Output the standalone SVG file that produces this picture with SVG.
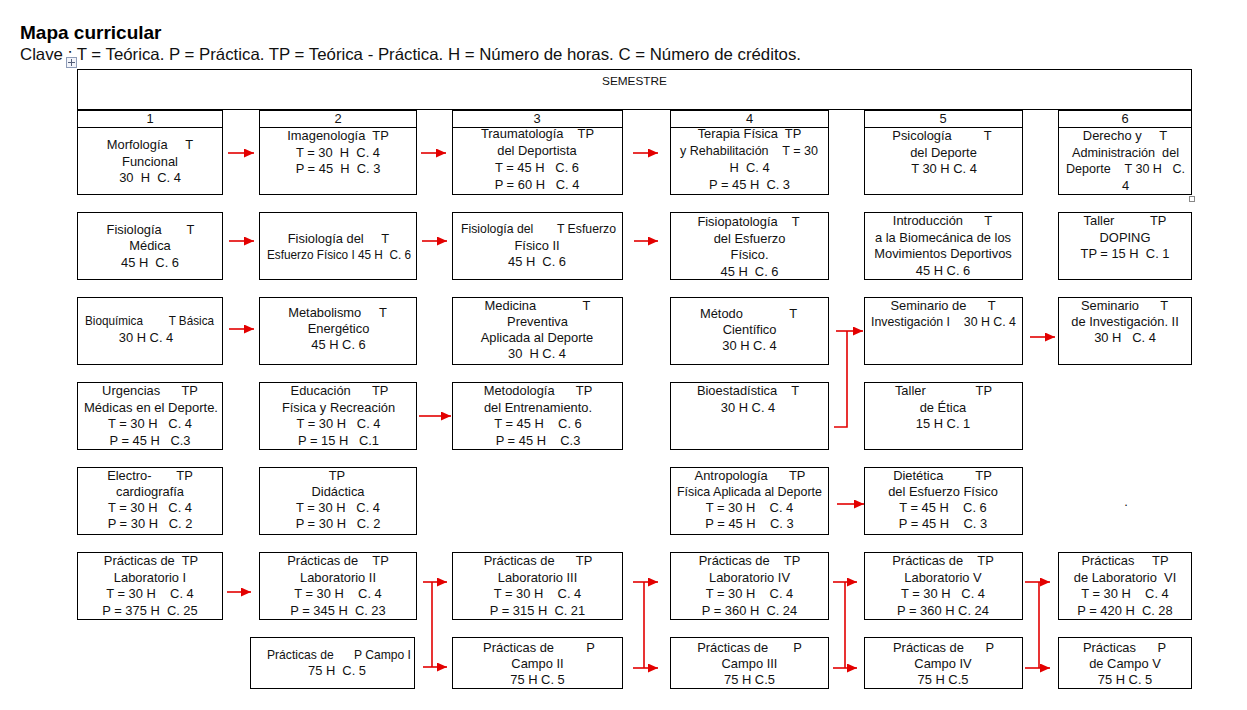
<svg xmlns="http://www.w3.org/2000/svg" width="1247" height="710" viewBox="0 0 1247 710" xml:space="preserve">
<defs>
<style>
.bx{fill:#fff;stroke:#000;stroke-width:1}
.t{font-family:"Liberation Sans",Arial,sans-serif;font-size:12.9px;fill:#111;text-anchor:middle;white-space:pre}
.c{fill:none;stroke:#e30000;stroke-width:1.6}
.a{marker-end:url(#ah)}
</style>
<marker id="ah" markerUnits="userSpaceOnUse" markerWidth="10" markerHeight="9" refX="10" refY="4.5" orient="auto"><path d="M0,0 L10,4.5 L0,9 z" fill="#e30000"/></marker>
</defs>
<rect width="1247" height="710" fill="#fff"/>
<text x="20" y="39" style="font-family:'Liberation Sans',Arial,sans-serif;font-size:19px;font-weight:bold;fill:#000">Mapa curricular</text>
<text x="20" y="60" textLength="781" lengthAdjust="spacingAndGlyphs" style="font-family:'Liberation Sans',Arial,sans-serif;font-size:16.5px;fill:#111">Clave : T = Teórica. P = Práctica. TP = Teórica - Práctica. H = Número de horas. C = Número de créditos.</text>
<g id="move-handle"><rect x="66.5" y="57.5" width="10" height="10" fill="#f2f4fa" stroke="#8e9cb8" stroke-width="1"/><path d="M71.5,59 V66 M68,62.5 H75" stroke="#55607a" stroke-width="1"/></g>
<g id="resize-handle"><rect x="1189.5" y="196.5" width="5" height="5" fill="#fff" stroke="#888" stroke-width="1"/></g>

<g id="semestre"><rect class="bx" x="77.5" y="69.5" width="1114" height="40"/><text class="t" x="634.5" y="85" style="font-size:11.8px">SEMESTRE</text></g>

<g id="sem1"><rect class="bx" x="77.5" y="110.5" width="145" height="17"/><text class="t" x="150" y="123">1</text></g>
<g id="sem2"><rect class="bx" x="259.5" y="110.5" width="157" height="17"/><text class="t" x="338" y="123">2</text></g>
<g id="sem3"><rect class="bx" x="452.5" y="110.5" width="170" height="17"/><text class="t" x="537" y="123">3</text></g>
<g id="sem4"><rect class="bx" x="670.5" y="110.5" width="158" height="17"/><text class="t" x="749.5" y="123">4</text></g>
<g id="sem5"><rect class="bx" x="864.5" y="110.5" width="158" height="17"/><text class="t" x="943" y="123">5</text></g>
<g id="sem6"><rect class="bx" x="1058.5" y="110.5" width="133" height="17"/><text class="t" x="1125" y="123">6</text></g>

<!-- Row 1 -->
<g id="morfologia"><rect class="bx" x="77.5" y="127.5" width="145" height="67"/>
<text class="t" x="150" y="149">Morfología     T</text><text class="t" x="150" y="166">Funcional</text><text class="t" x="150" y="182">30  H  C. 4</text></g>
<g id="imagenologia"><rect class="bx" x="259.5" y="127.5" width="157" height="67"/>
<text class="t" x="338" y="140">Imagenología  TP</text><text class="t" x="338" y="157">T = 30  H  C. 4</text><text class="t" x="338" y="173">P = 45  H  C. 3</text></g>
<g id="traumatologia"><rect class="bx" x="452.5" y="127.5" width="170" height="67"/>
<text class="t" x="537.5" y="138">Traumatología    TP</text><text class="t" x="537" y="155">del Deportista</text><text class="t" x="537" y="172">T = 45 H   C. 6</text><text class="t" x="537" y="189">P = 60 H   C. 4</text></g>
<g id="terapia"><rect class="bx" x="670.5" y="127.5" width="158" height="67"/>
<text class="t" x="749.5" y="138">Terapia Física  TP</text><text class="t" x="749" y="155" textLength="138" lengthAdjust="spacingAndGlyphs">y Rehabilitación    T = 30</text><text class="t" x="749.5" y="172">H  C. 4</text><text class="t" x="749.5" y="189">P = 45 H  C. 3</text></g>
<g id="psicologia"><rect class="bx" x="864.5" y="127.5" width="158" height="67"/>
<text class="t" x="942" y="140">Psicología         T</text><text class="t" x="943.5" y="157">del Deporte</text><text class="t" x="944" y="173">T 30 H C. 4</text></g>
<g id="derecho"><rect class="bx" x="1058.5" y="127.5" width="133" height="67"/>
<text class="t" x="1125" y="140">Derecho y     T</text><text class="t" x="1125.5" y="157" textLength="107" lengthAdjust="spacingAndGlyphs">Administración  del</text><text class="t" x="1125.5" y="173" textLength="119" lengthAdjust="spacingAndGlyphs">Deporte    T 30 H   C.</text><text class="t" x="1125.5" y="190">4</text></g>

<!-- Row 2 -->
<g id="fisiologia-medica"><rect class="bx" x="77.5" y="212.5" width="145" height="67"/>
<text class="t" x="150.5" y="234">Fisiología       T</text><text class="t" x="150" y="250">Médica</text><text class="t" x="150" y="267">45 H  C. 6</text></g>
<g id="fisiologia-esfuerzo-1"><rect class="bx" x="259.5" y="212.5" width="157" height="67"/>
<text class="t" x="338.5" y="243">Fisiología del     T</text><text class="t" x="339" y="259" textLength="144" lengthAdjust="spacingAndGlyphs">Esfuerzo Físico I 45 H  C. 6</text></g>
<g id="fisiologia-esfuerzo-2"><rect class="bx" x="452.5" y="212.5" width="170" height="67"/>
<text class="t" x="538.5" y="233" textLength="155" lengthAdjust="spacingAndGlyphs">Fisiología del       T Esfuerzo</text><text class="t" x="537" y="250">Físico II</text><text class="t" x="537" y="266">45 H  C. 6</text></g>
<g id="fisiopatologia"><rect class="bx" x="670.5" y="212.5" width="158" height="67"/>
<text class="t" x="748.5" y="226">Fisiopatología    T</text><text class="t" x="749.5" y="243">del Esfuerzo</text><text class="t" x="749.5" y="259">Físico.</text><text class="t" x="749.5" y="276">45 H  C. 6</text></g>
<g id="biomecanica"><rect class="bx" x="864.5" y="212.5" width="158" height="67"/>
<text class="t" x="942.5" y="225">Introducción      T</text><text class="t" x="943" y="242">a la Biomecánica de los</text><text class="t" x="943" y="258">Movimientos Deportivos</text><text class="t" x="943" y="275">45 H C. 6</text></g>
<g id="doping"><rect class="bx" x="1058.5" y="212.5" width="133" height="67"/>
<text class="t" x="1125" y="225">Taller          TP</text><text class="t" x="1125" y="242">DOPING</text><text class="t" x="1125" y="258">TP = 15 H  C. 1</text></g>

<!-- Row 3 -->
<g id="bioquimica"><rect class="bx" x="77.5" y="297.5" width="145" height="67"/>
<text class="t" x="149.5" y="325" textLength="129" lengthAdjust="spacingAndGlyphs">Bioquímica        T Básica</text><text class="t" x="146" y="342">30 H C. 4</text></g>
<g id="metabolismo"><rect class="bx" x="259.5" y="297.5" width="157" height="67"/>
<text class="t" x="337.5" y="317">Metabolismo     T</text><text class="t" x="338.5" y="333">Energético</text><text class="t" x="338.5" y="349">45 H C. 6</text></g>
<g id="medicina-preventiva"><rect class="bx" x="452.5" y="297.5" width="170" height="67"/>
<text class="t" x="537.5" y="310">Medicina             T</text><text class="t" x="537.5" y="326">Preventiva</text><text class="t" x="537" y="342">Aplicada al Deporte</text><text class="t" x="537" y="358">30  H C. 4</text></g>
<g id="metodo-cientifico"><rect class="bx" x="670.5" y="297.5" width="158" height="67"/>
<text class="t" x="748.5" y="318">Método             T</text><text class="t" x="749.5" y="334">Científico</text><text class="t" x="749.5" y="350">30 H C. 4</text></g>
<g id="seminario-1"><rect class="bx" x="864.5" y="297.5" width="158" height="67"/>
<text class="t" x="943" y="310">Seminario de      T</text><text class="t" x="943.5" y="326" textLength="145" lengthAdjust="spacingAndGlyphs">Investigación I    30 H C. 4</text></g>
<g id="seminario-2"><rect class="bx" x="1058.5" y="297.5" width="133" height="67"/>
<text class="t" x="1124.5" y="310">Seminario      T</text><text class="t" x="1125" y="326">de Investigación. II</text><text class="t" x="1125" y="342">30 H   C. 4</text></g>

<!-- Row 4 -->
<g id="urgencias"><rect class="bx" x="77.5" y="382.5" width="145" height="67"/>
<text class="t" x="150" y="395">Urgencias      TP</text><text class="t" x="151" y="412" textLength="134" lengthAdjust="spacingAndGlyphs">Médicas en el Deporte.</text><text class="t" x="150" y="428">T = 30 H   C. 4</text><text class="t" x="150" y="445">P = 45 H   C.3</text></g>
<g id="educacion-fisica"><rect class="bx" x="259.5" y="382.5" width="157" height="67"/>
<text class="t" x="339.5" y="395">Educación      TP</text><text class="t" x="338.5" y="412">Física y Recreación</text><text class="t" x="338.5" y="428">T = 30 H   C. 4</text><text class="t" x="338.5" y="445">P = 15 H   C.1</text></g>
<g id="metodologia"><rect class="bx" x="452.5" y="382.5" width="170" height="67"/>
<text class="t" x="538" y="395">Metodología      TP</text><text class="t" x="538" y="412">del Entrenamiento.</text><text class="t" x="538" y="428">T = 45 H    C. 6</text><text class="t" x="538" y="445">P = 45 H    C.3</text></g>
<g id="bioestadistica"><rect class="bx" x="670.5" y="382.5" width="158" height="67"/>
<text class="t" x="748" y="395">Bioestadística    T</text><text class="t" x="748" y="412">30 H C. 4</text></g>
<g id="etica"><rect class="bx" x="864.5" y="382.5" width="158" height="67"/>
<text class="t" x="943.5" y="395">Taller              TP</text><text class="t" x="943" y="412">de Ética</text><text class="t" x="943" y="428">15 H C. 1</text></g>

<!-- Row 5 -->
<g id="electrocardiografia"><rect class="bx" x="77.5" y="467.5" width="145" height="67"/>
<text class="t" x="150" y="480">Electro-       TP</text><text class="t" x="150" y="496">cardiografía</text><text class="t" x="150" y="512">T = 30 H   C. 4</text><text class="t" x="150" y="528">P = 30 H   C. 2</text></g>
<g id="didactica"><rect class="bx" x="259.5" y="467.5" width="157" height="67"/>
<text class="t" x="337" y="480">TP</text><text class="t" x="338" y="496">Didáctica</text><text class="t" x="338" y="512">T = 30 H   C. 4</text><text class="t" x="338" y="528">P = 30 H   C. 2</text></g>
<g id="antropologia"><rect class="bx" x="670.5" y="467.5" width="158" height="67"/>
<text class="t" x="750" y="480">Antropología      TP</text><text class="t" x="749.5" y="496" textLength="145" lengthAdjust="spacingAndGlyphs">Física Aplicada al Deporte</text><text class="t" x="749.5" y="512">T = 30 H    C. 4</text><text class="t" x="749.5" y="528">P = 45 H    C. 3</text></g>
<g id="dietetica"><rect class="bx" x="864.5" y="467.5" width="158" height="67"/>
<text class="t" x="942.5" y="480">Dietética         TP</text><text class="t" x="943" y="496">del Esfuerzo Físico</text><text class="t" x="943" y="512">T = 45 H    C. 6</text><text class="t" x="943" y="528">P = 45 H    C. 3</text></g>
<text class="t" x="1126" y="506">.</text>

<!-- Row 6 -->
<g id="lab-1"><rect class="bx" x="77.5" y="552.5" width="145" height="67"/>
<text class="t" x="151" y="565">Prácticas de  TP</text><text class="t" x="150" y="582">Laboratorio I</text><text class="t" x="150" y="598">T = 30 H    C. 4</text><text class="t" x="150" y="615">P = 375 H  C. 25</text></g>
<g id="lab-2"><rect class="bx" x="259.5" y="552.5" width="157" height="67"/>
<text class="t" x="338" y="565">Prácticas de    TP</text><text class="t" x="338" y="582">Laboratorio II</text><text class="t" x="338" y="598">T = 30 H    C. 4</text><text class="t" x="338" y="615">P = 345 H  C. 23</text></g>
<g id="lab-3"><rect class="bx" x="452.5" y="552.5" width="170" height="67"/>
<text class="t" x="538" y="565">Prácticas de      TP</text><text class="t" x="537.5" y="582">Laboratorio III</text><text class="t" x="537.5" y="598">T = 30 H    C. 4</text><text class="t" x="537.5" y="615">P = 315 H  C. 21</text></g>
<g id="lab-4"><rect class="bx" x="670.5" y="552.5" width="158" height="67"/>
<text class="t" x="749.5" y="565">Prácticas de    TP</text><text class="t" x="749.5" y="582">Laboratorio IV</text><text class="t" x="749.5" y="598">T = 30 H    C. 4</text><text class="t" x="749.5" y="615">P = 360 H  C. 24</text></g>
<g id="lab-5"><rect class="bx" x="864.5" y="552.5" width="158" height="67"/>
<text class="t" x="943" y="565">Prácticas de    TP</text><text class="t" x="943" y="582">Laboratorio V</text><text class="t" x="943" y="598">T = 30 H   C. 4</text><text class="t" x="943" y="615">P = 360 H C. 24</text></g>
<g id="lab-6"><rect class="bx" x="1058.5" y="552.5" width="133" height="67"/>
<text class="t" x="1125" y="565">Prácticas     TP</text><text class="t" x="1125" y="582">de Laboratorio  VI</text><text class="t" x="1125" y="598">T = 30 H    C. 4</text><text class="t" x="1125" y="615">P = 420 H  C. 28</text></g>

<!-- Row 7 -->
<g id="campo-1"><rect class="bx" x="250.5" y="637.5" width="164" height="51"/>
<text class="t" x="339" y="659" textLength="144" lengthAdjust="spacingAndGlyphs">Prácticas de      P Campo I</text><text class="t" x="337" y="675">75 H  C. 5</text></g>
<g id="campo-2"><rect class="bx" x="452.5" y="637.5" width="170" height="51"/>
<text class="t" x="539" y="652">Prácticas de         P</text><text class="t" x="537.5" y="668">Campo II</text><text class="t" x="537.5" y="684">75 H C. 5</text></g>
<g id="campo-3"><rect class="bx" x="670.5" y="637.5" width="158" height="51"/>
<text class="t" x="749.5" y="652">Prácticas de       P</text><text class="t" x="749.5" y="668">Campo III</text><text class="t" x="749.5" y="684">75 H C.5</text></g>
<g id="campo-4"><rect class="bx" x="864.5" y="637.5" width="158" height="51"/>
<text class="t" x="943.5" y="652">Prácticas de      P</text><text class="t" x="943" y="668">Campo IV</text><text class="t" x="943" y="684">75 H C.5</text></g>
<g id="campo-5"><rect class="bx" x="1058.5" y="637.5" width="133" height="51"/>
<text class="t" x="1124.5" y="652">Prácticas      P</text><text class="t" x="1125" y="668">de Campo V</text><text class="t" x="1125" y="684">75 H C. 5</text></g>

<g id="connectors">
<path class="c a" d="M228,153 H254"/>
<path class="c a" d="M421,153 H446"/>
<path class="c a" d="M633,153 H658"/>
<path class="c a" d="M229,241 H254"/>
<path class="c a" d="M422,241 H447"/>
<path class="c a" d="M634,241 H658"/>
<path class="c a" d="M229,329 H254"/>
<path class="c a" d="M836,331 H863"/>
<path class="c" d="M847,331 V427 H834"/>
<path class="c a" d="M1030,337 H1055"/>
<path class="c a" d="M419,416 H451"/>
<path class="c a" d="M837,504 H864"/>
<path class="c a" d="M227,592 H251"/>
<path class="c a" d="M423,582 H447"/>
<path class="c a" d="M423,667 H447"/>
<path class="c" d="M432,582 V667"/>
<path class="c a" d="M633,582 H658"/>
<path class="c a" d="M633,668 H658"/>
<path class="c" d="M644,582 V668"/>
<path class="c a" d="M833,582 H857"/>
<path class="c a" d="M833,668 H857"/>
<path class="c" d="M845,582 V668"/>
<path class="c a" d="M1025,582 H1050"/>
<path class="c a" d="M1025,668 H1050"/>
<path class="c" d="M1039,582 V668"/>
</g>
</svg>
